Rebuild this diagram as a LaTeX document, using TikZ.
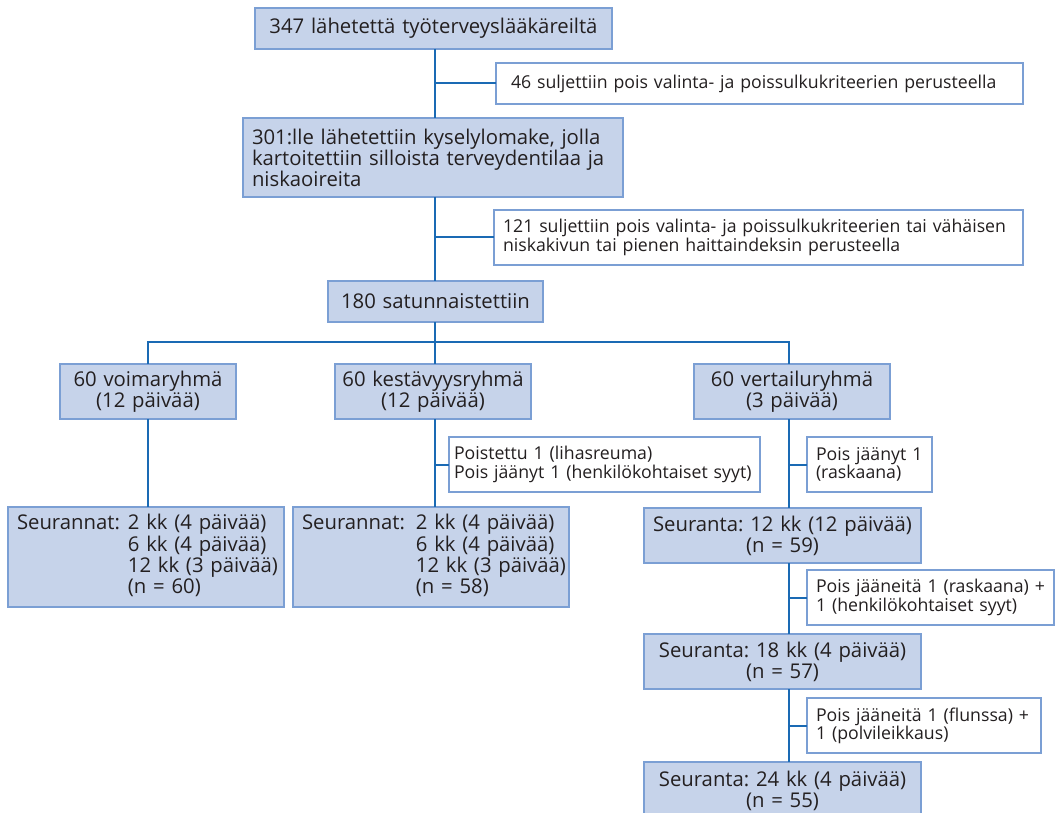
\documentclass[tikz,border=0pt]{standalone}
\usepackage{fontspec}
\setmainfont{Open Sans}
\frenchspacing
\definecolor{boxfill}{HTML}{C6D3EA}
\definecolor{boxline}{HTML}{7B9FD4}
\definecolor{flowline}{HTML}{1A6AB4}
\definecolor{inktext}{HTML}{231F20}
\newcommand\mainsize{\fontsize{20.3}{21}\selectfont}
\newcommand\notesize{\fontsize{17.7}{18.3}\selectfont}
\tikzset{
  box/.style={draw=boxline,fill=boxfill,line width=1.4pt,text=inktext,
    anchor=north west,inner xsep=9pt,inner ysep=0pt,outer sep=0pt,
    align=left,font=\mainsize},
  note/.style={box,fill=white,font=\notesize},
  flow/.style={draw=flowline,line width=2pt}
}
\newcommand\flowbox[7]{
  \node[minimum width=#5pt,minimum height=#6pt,text width=#5pt-18pt,#2]
    (#1) at (#3,#4) {#7};
}
\newcommand\followups[2]{%
  \begin{tabular}{@{}l@{\hspace{#1}}l@{}}
    Seurannat: & 2 kk (4 päivää)\\
               & 6 kk (4 päivää)\\
               & 12 kk (3 päivää)\\
               & (n = #2)
  \end{tabular}}

\begin{document}
\begin{tikzpicture}[x=1pt,y=-1pt]
  \useasboundingbox (0,0) rectangle (1055,813);

  % upper column
  \flowbox{top}{box,align=center}{255}{8}{357}{41}{347 lähetettä työterveyslääkäreiltä}
  \flowbox{excl1}{note}{496}{63}{527}{41}{\hspace*{6pt}46 suljettiin pois valinta- ja poissulkukriteerien perusteella}
  \flowbox{ask}{box}{243}{118}{380}{79}{301:lle lähetettiin kyselylomake, jolla\\kartoitettiin silloista terveydentilaa ja\\niskaoireita}
  \flowbox{excl2}{note}{494}{210}{529}{55}{121 suljettiin pois valinta- ja poissulkukriteerien tai vähäisen\\niskakivun tai pienen haittaindeksin perusteella}
  \flowbox{rand}{box,align=center}{328}{281}{215}{41}{180 satunnaistettiin}

  % groups
  \flowbox{voima}{box,align=center}{60}{364}{176}{55}{60 voimaryhmä\\(12 päivää)}
  \flowbox{kest}{box,align=center,inner xsep=4pt,text width=188pt}{335}{364}{196}{55}{60 kestävyysryhmä\\(12 päivää)}
  \flowbox{vert}{box,align=center}{694}{364}{196}{55}{60 vertailuryhmä\\(3 päivää)}
  \flowbox{excl3}{note,inner xsep=5pt,text width=301pt}{449}{437}{311}{55}{Poistettu 1 (lihasreuma)\\Pois jäänyt 1 (henkilökohtaiset syyt)}
  \flowbox{excl4}{note}{807}{437}{125}{55}{Pois jäänyt 1\\(raskaana)}

  % follow-ups
  \flowbox{seur1}{box}{8}{507}{276}{100}{\followups{8pt}{60}}
  \flowbox{seur2}{box}{293}{507}{276}{100}{\followups{11pt}{58}}
  \flowbox{s12}{box,align=center}{644}{508}{277}{55}{Seuranta: 12 kk (12 päivää)\\(n = 59)}
  \flowbox{excl5}{note}{807}{570}{247}{55}{Pois jääneitä 1 (raskaana) +\\1 (henkilökohtaiset syyt)}
  \flowbox{s18}{box,align=center}{644}{634}{277}{55}{Seuranta: 18 kk (4 päivää)\\(n = 57)}
  \flowbox{excl6}{note}{807}{698}{234}{55}{Pois jääneitä 1 (flunssa) +\\1 (polvileikkaus)}
  \flowbox{s24}{box,align=center}{644}{762}{277}{58}{Seuranta: 24 kk (4 päivää)\\(n = 55)}

  \coordinate (spine) at (435,0);
  \coordinate (fork) at (435,342);
  \coordinate (rail) at (789,0);

  \draw[flow] (top.south -| spine) -- (ask.north -| spine);
  \draw[flow] (excl1.west) -- (excl1.west -| spine);
  \draw[flow] (ask.south -| spine) -- (rand.north -| spine);
  \draw[flow] (excl2.west) -- (excl2.west -| spine);
  \draw[flow] (rand.south -| spine) -- (fork);
  \draw[flow] (voima.north) |- (fork) -| (vert.north -| rail);
  \draw[flow] (fork) -- (kest.north -| fork);
  \draw[flow] (voima.south) -- (seur1.north -| voima.south);
  \draw[flow] (kest.south -| spine) -- (seur2.north -| spine);
  \draw[flow] (excl3.west) -- (excl3.west -| spine);
  \draw[flow] (vert.south -| rail) -- (s12.north -| rail);
  \draw[flow] (excl4.west) -- (excl4.west -| rail);
  \draw[flow] (s12.south -| rail) -- (s18.north -| rail);
  \draw[flow] (excl5.west) -- (excl5.west -| rail);
  \draw[flow] (s18.south -| rail) -- (s24.north -| rail);
  \draw[flow] (excl6.west) -- (excl6.west -| rail);
\end{tikzpicture}
\end{document}
